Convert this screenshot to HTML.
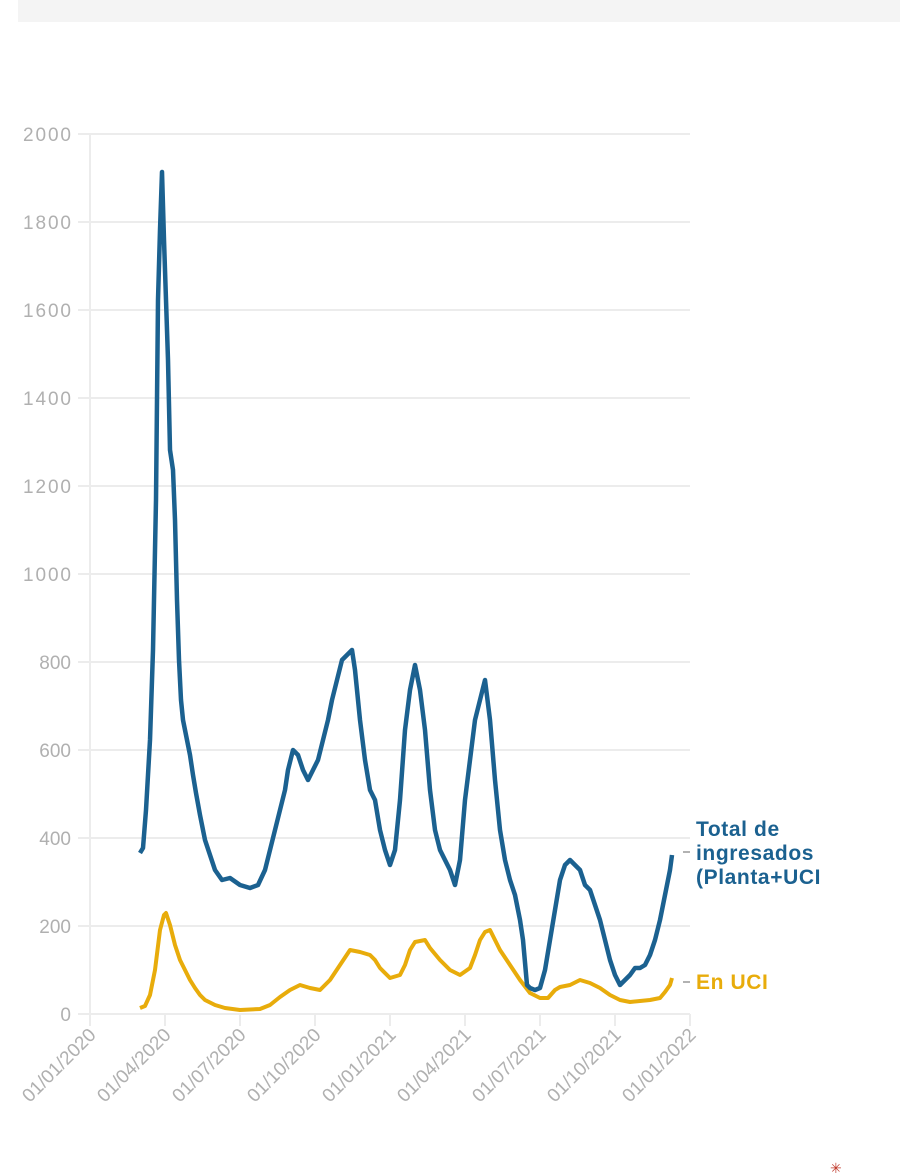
<!DOCTYPE html>
<html><head><meta charset="utf-8"><style>
body{margin:0;background:#fff;width:900px;height:1173px;overflow:hidden;font-family:"Liberation Sans",sans-serif}
</style></head><body>
<div style="position:absolute;left:18px;top:0;width:882px;height:22px;background:#f4f4f4"></div>
<svg width="900" height="1173" style="position:absolute;left:0;top:0">
<defs><clipPath id="c"><rect x="0" y="0" width="820" height="1173"/></clipPath></defs>
<g stroke="#ececec" stroke-width="2">
<line x1="78" x2="690" y1="134" y2="134"/><line x1="78" x2="690" y1="222" y2="222"/>
<line x1="78" x2="690" y1="310" y2="310"/><line x1="78" x2="690" y1="398" y2="398"/>
<line x1="78" x2="690" y1="486" y2="486"/><line x1="78" x2="690" y1="574" y2="574"/>
<line x1="78" x2="690" y1="662" y2="662"/><line x1="78" x2="690" y1="750" y2="750"/>
<line x1="78" x2="690" y1="838" y2="838"/><line x1="78" x2="690" y1="926" y2="926"/>
<line x1="78" x2="690" y1="1014" y2="1014"/>
<line x1="90" x2="90" y1="134" y2="1026"/>
<line x1="165" x2="165" y1="1014" y2="1026"/><line x1="240" x2="240" y1="1014" y2="1026"/>
<line x1="315" x2="315" y1="1014" y2="1026"/><line x1="390" x2="390" y1="1014" y2="1026"/>
<line x1="465" x2="465" y1="1014" y2="1026"/><line x1="540" x2="540" y1="1014" y2="1026"/>
<line x1="615" x2="615" y1="1014" y2="1026"/><line x1="690" x2="690" y1="1014" y2="1026"/>
</g>
<g fill="#b0b0b0" font-size="19" text-anchor="end">
<text x="71" y="141" textLength="48">2000</text><text x="71" y="229" textLength="48">1800</text><text x="71" y="317" textLength="48">1600</text>
<text x="71" y="405" textLength="48">1400</text><text x="71" y="493" textLength="48">1200</text><text x="71" y="581" textLength="48">1000</text>
<text x="71" y="669">800</text><text x="71" y="757">600</text><text x="71" y="845">400</text>
<text x="71" y="933">200</text><text x="71" y="1021">0</text>
</g>
<g fill="#b0b0b0" font-size="19" text-anchor="end">
<text transform="translate(97,1036) rotate(-45)">01/01/2020</text>
<text transform="translate(172,1036) rotate(-45)">01/04/2020</text>
<text transform="translate(247,1036) rotate(-45)">01/07/2020</text>
<text transform="translate(322,1036) rotate(-45)">01/10/2020</text>
<text transform="translate(397,1036) rotate(-45)">01/01/2021</text>
<text transform="translate(472,1036) rotate(-45)">01/04/2021</text>
<text transform="translate(547,1036) rotate(-45)">01/07/2021</text>
<text transform="translate(622,1036) rotate(-45)">01/10/2021</text>
<text transform="translate(697,1036) rotate(-45)">01/01/2022</text>
</g>
<polyline fill="none" stroke="#e8ac0b" stroke-width="4" stroke-linejoin="round" points="140,1008 145,1006 150,995 155,970 160,930 164,915 166,913 170,925 175,945 180,960 185,970 190,980 195,988 200,995 205,1000 215,1005 225,1008 240,1010 260,1009 270,1005 280,997 290,990 300,985 310,988 320,990 330,980 340,965 350,950 360,952 370,955 375,960 380,968 390,978 400,975 405,965 410,950 415,942 425,940 430,948 440,960 450,970 460,975 470,968 475,955 480,940 485,932 490,930 495,940 500,950 510,965 520,980 530,993 540,998 548,998 555,990 560,987 570,985 580,980 590,983 600,988 610,995 620,1000 630,1002 640,1001 650,1000 660,998 665,992 670,985 672,978"/>
<polyline fill="none" stroke="#1b6190" stroke-width="4.5" stroke-linejoin="round" points="140,853 143,848 146,810 150,740 153,650 156,500 158,300 160,230 162,172 164,240 166,300 168,360 170,450 173,470 175,520 177,600 179,660 181,700 183,720 187,740 190,755 193,775 196,793 200,815 205,840 210,855 215,870 222,880 230,878 240,885 250,888 258,885 265,870 270,850 275,830 280,810 285,790 288,770 293,750 298,755 303,770 308,780 313,770 318,760 323,740 328,720 332,700 337,680 342,660 347,655 352,650 355,670 360,720 365,760 370,790 375,800 380,830 385,850 390,865 395,850 400,800 405,730 410,690 415,665 420,690 425,730 430,790 435,830 440,850 445,860 450,870 455,885 460,860 465,800 470,760 475,720 480,700 485,680 490,720 495,780 500,830 505,860 510,880 515,895 520,920 523,940 527,985 530,988 535,990 540,988 545,970 550,940 555,910 560,880 565,865 570,860 575,865 580,870 585,885 590,890 595,905 600,920 605,940 610,960 615,975 620,985 625,980 630,975 635,968 640,968 645,965 650,955 655,940 660,920 665,895 670,870 672,855"/>
<line x1="683" x2="690" y1="852" y2="852" stroke="#999" stroke-width="1.5"/>
<line x1="683" x2="690" y1="982" y2="982" stroke="#999" stroke-width="1.5"/>
<g clip-path="url(#c)" font-weight="bold" font-size="21" letter-spacing="0.6">
<text fill="#1b6190" x="696" y="836">Total de</text>
<text fill="#1b6190" x="696" y="860">ingresados</text>
<text fill="#1b6190" x="696" y="884">(Planta+UCI)</text>
<text fill="#e8ac0b" x="696" y="989">En UCI</text>
</g>
<text x="830" y="1173" fill="#c0392b" font-size="14">✳</text>
</svg>
</body></html>
